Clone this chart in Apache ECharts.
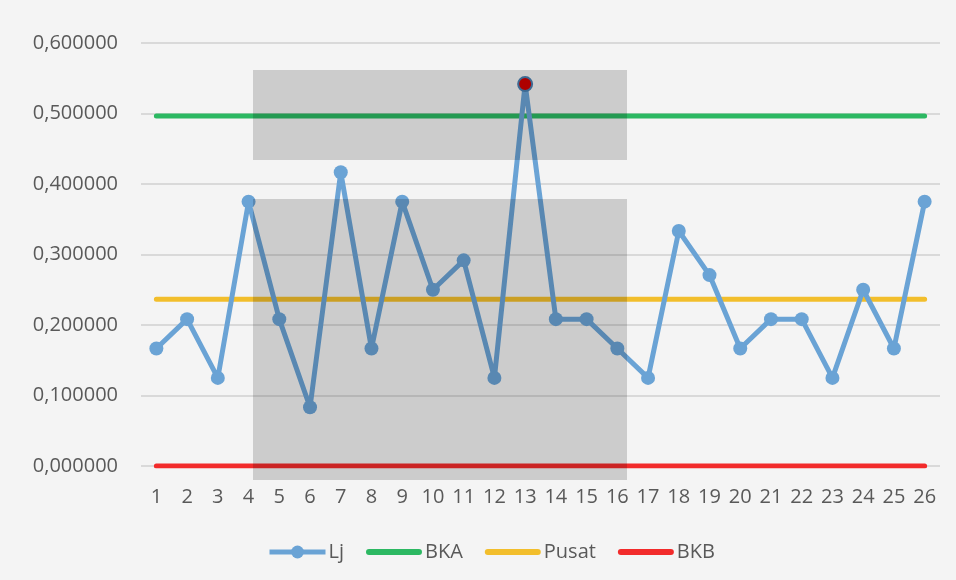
<!DOCTYPE html>
<html lang="id">
  <head>
    <meta charset="UTF-8" />
    <title>Peta kendali</title>
    <script src="https://cdn.jsdelivr.net/npm/echarts@6/dist/echarts.min.js"></script>
    <style>
      body { margin: 0; }
    </style>
  </head>
  <body>
    <div id="main" style="width: 956px; height: 580px;"></div>
    <script type="text/javascript">
      var categories = ['1', '2', '3', '4', '5', '6', '7', '8', '9', '10', '11', '12', '13',
        '14', '15', '16', '17', '18', '19', '20', '21', '22', '23', '24', '25', '26']
      var lj = [0.1667, 0.2083, 0.125, 0.375, 0.2083, 0.0833, 0.4167, 0.1667, 0.375, 0.25,
        0.2917, 0.125, 0.5417, 0.2083, 0.2083, 0.1667, 0.125, 0.3333, 0.2708, 0.1667,
        0.2083, 0.2083, 0.125, 0.25, 0.1667, 0.375]
      var bka = 0.4966
      var pusat = 0.2364
      var bkb = 0
      var outIndex = 12 // titik ke-13 di luar batas

      var chart = echarts.init(document.getElementById('main'))

      function flat(v) {
        return categories.map(function () { return v })
      }

      var ljData = lj.map(function (v, i) {
        if (i === outIndex) {
          return { value: v, itemStyle: { color: '#d00000', borderColor: '#4a7fb0', borderWidth: 2 } }
        }
        return v
      })

      var font = 'Open Sans, Noto Sans, sans-serif'
      // garis datar untuk ikon legenda
      var barIcon = 'path://M3,0 L53,0 A3,3 0 0 1 53,6 L3,6 A3,3 0 0 1 3,0 Z'

      var option = {
        backgroundColor: '#f4f4f4',
        animation: false,
        grid: { left: 141, right: 16, top: 43, bottom: 114 },
        xAxis: {
          type: 'category',
          data: categories,
          boundaryGap: true,
          axisLine: { show: false },
          axisTick: { show: false },
          axisLabel: { color: '#595959', fontSize: 20, margin: 21, fontFamily: font }
        },
        yAxis: {
          type: 'value',
          min: 0,
          max: 0.6,
          interval: 0.1,
          axisLabel: {
            color: '#595959',
            fontSize: 20,
            margin: 23,
            fontFamily: font,
            formatter: function (v) { return v.toFixed(6).replace('.', ',') }
          },
          splitLine: { lineStyle: { color: '#d0d0d0', width: 1.5 } }
        },
        legend: {
          bottom: 13,
          left: 262,
          itemWidth: 56,
          itemHeight: 16,
          itemGap: 22,
          textStyle: { color: '#595959', fontSize: 20, fontFamily: font, padding: [0, 0, 0, -2] },
          data: [
            { name: 'Lj', lineStyle: { width: 5 } },
            { name: 'BKA', icon: barIcon },
            { name: 'Pusat', icon: barIcon },
            { name: 'BKB', icon: barIcon }
          ]
        },
        series: [
          {
            name: 'BKA', type: 'line', data: flat(bka), symbol: 'none',
            lineStyle: { color: '#2cb862', width: 5, cap: 'round' }, itemStyle: { color: '#2cb862' }
          },
          {
            name: 'Pusat', type: 'line', data: flat(pusat), symbol: 'none',
            lineStyle: { color: '#f2be2c', width: 5, cap: 'round' }, itemStyle: { color: '#f2be2c' }
          },
          {
            name: 'BKB', type: 'line', data: flat(bkb), symbol: 'none',
            lineStyle: { color: '#f22b2b', width: 5, cap: 'round' }, itemStyle: { color: '#f22b2b' }
          },
          {
            name: 'Lj', type: 'line', data: ljData, symbol: 'circle', symbolSize: 14,
            lineStyle: { color: '#6aa3d5', width: 5 },
            itemStyle: { color: '#6aa3d5' },
            z: 5
          }
        ],
        graphic: [
          { type: 'rect', silent: true, z: 100, shape: { x: 253, y: 70, width: 374, height: 90 },
            style: { fill: 'rgba(0,0,0,0.16)' } },
          { type: 'rect', silent: true, z: 100, shape: { x: 253, y: 199, width: 374, height: 281 },
            style: { fill: 'rgba(0,0,0,0.16)' } }
        ]
      }

      chart.setOption(option)
    </script>
  </body>
</html>
